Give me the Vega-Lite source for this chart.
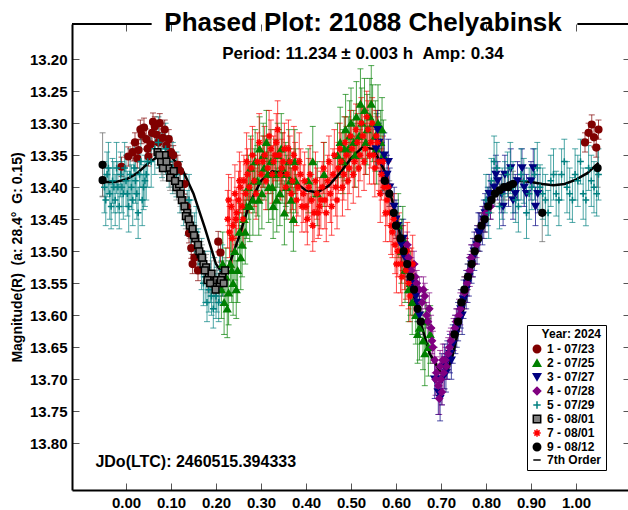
{
"$schema": "https://vega.github.io/schema/vega-lite/v6.json",
"width": 558, "height": 466,
"autosize": {"type": "none"},
"padding": {"left": 72, "top": 24, "right": 0, "bottom": 20},
"config": {"view": {"stroke": null}, "font": "Liberation Sans", "axis": {"grid": false}},
"title": {"text": "Phased Plot: 21088 Chelyabinsk", "subtitle": "Period: 11.234 ± 0.003 h \u00a0Amp: 0.34", "fontSize": 26, "subtitleFontSize": 17, "fontWeight": "bold", "subtitleFontWeight": "bold", "color": "black", "subtitleColor": "black", "anchor": "middle", "frame": "group", "offset": -39, "subtitlePadding": 10, "dx": 12},
"datasets": {
"obs": [
{"s":"1","p":-0.01,"m":13.368,"e":0.015},{"s":"1","p":0.005,"m":13.352,"e":0.015},{"s":"1","p":0.015,"m":13.345,"e":0.014},{"s":"1","p":0.02,"m":13.33,"e":0.015},{"s":"1","p":0.028,"m":13.342,"e":0.016},{"s":"1","p":0.035,"m":13.318,"e":0.014},{"s":"1","p":0.04,"m":13.307,"e":0.015},{"s":"1","p":0.045,"m":13.325,"e":0.016},{"s":"1","p":0.05,"m":13.352,"e":0.015},{"s":"1","p":0.055,"m":13.333,"e":0.015},{"s":"1","p":0.06,"m":13.298,"e":0.014},{"s":"1","p":0.068,"m":13.318,"e":0.015},{"s":"1","p":0.075,"m":13.3,"e":0.015},{"s":"1","p":0.082,"m":13.323,"e":0.014},{"s":"1","p":0.09,"m":13.335,"e":0.015},{"s":"1","p":0.1,"m":13.345,"e":0.016},{"s":"1","p":0.115,"m":13.365,"e":0.015},{"s":"1","p":0.13,"m":13.395,"e":0.016},{"s":"1","p":0.14,"m":13.472,"e":0.015},{"s":"1","p":0.145,"m":13.495,"e":0.016},{"s":"1","p":0.152,"m":13.51,"e":0.015},{"s":"1","p":0.16,"m":13.53,"e":0.016},{"s":"1","p":0.205,"m":13.485,"e":0.016},{"s":"1","p":0.21,"m":13.502,"e":0.015},{"s":"1","p":1.02,"m":13.33,"e":0.015},{"s":"1","p":1.028,"m":13.315,"e":0.015},{"s":"1","p":1.035,"m":13.302,"e":0.015},{"s":"1","p":1.04,"m":13.322,"e":0.015},{"s":"1","p":1.045,"m":13.338,"e":0.015},{"s":"1","p":1.05,"m":13.31,"e":0.015},
{"s":"1","p":0.025,"m":13.355,"e":0.015},{"s":"1","p":0.032,"m":13.31,"e":0.015},{"s":"1","p":0.048,"m":13.34,"e":0.015},{"s":"1","p":0.058,"m":13.315,"e":0.015},{"s":"1","p":0.064,"m":13.305,"e":0.015},{"s":"1","p":0.072,"m":13.33,"e":0.015},{"s":"1","p":0.086,"m":13.31,"e":0.015},{"s":"1","p":0.095,"m":13.325,"e":0.015},{"s":"1","p":0.105,"m":13.35,"e":0.015},{"s":"1","p":0.12,"m":13.375,"e":0.015},{"s":"1","p":0.135,"m":13.43,"e":0.015},{"s":"1","p":0.148,"m":13.52,"e":0.015},
{"s":"2","p":0.212,"m":13.56,"e":0.045},{"s":"2","p":0.218,"m":13.58,"e":0.05},{"s":"2","p":0.222,"m":13.54,"e":0.045},{"s":"2","p":0.228,"m":13.565,"e":0.05},{"s":"2","p":0.232,"m":13.52,"e":0.045},{"s":"2","p":0.238,"m":13.55,"e":0.05},{"s":"2","p":0.242,"m":13.5,"e":0.045},{"s":"2","p":0.248,"m":13.53,"e":0.05},{"s":"2","p":0.252,"m":13.47,"e":0.045},{"s":"2","p":0.258,"m":13.49,"e":0.05},{"s":"2","p":0.262,"m":13.45,"e":0.045},{"s":"2","p":0.268,"m":13.43,"e":0.05},
{"s":"2","p":0.272,"m":13.4,"e":0.05},{"s":"2","p":0.277,"m":13.37,"e":0.05},{"s":"2","p":0.282,"m":13.42,"e":0.055},{"s":"2","p":0.287,"m":13.36,"e":0.05},{"s":"2","p":0.292,"m":13.39,"e":0.055},{"s":"2","p":0.297,"m":13.34,"e":0.05},{"s":"2","p":0.302,"m":13.41,"e":0.055},{"s":"2","p":0.307,"m":13.37,"e":0.05},{"s":"2","p":0.312,"m":13.33,"e":0.05},{"s":"2","p":0.317,"m":13.4,"e":0.055},{"s":"2","p":0.322,"m":13.36,"e":0.05},{"s":"2","p":0.327,"m":13.43,"e":0.05},{"s":"2","p":0.332,"m":13.38,"e":0.055},{"s":"2","p":0.337,"m":13.35,"e":0.05},{"s":"2","p":0.342,"m":13.41,"e":0.05},{"s":"2","p":0.347,"m":13.37,"e":0.055},{"s":"2","p":0.352,"m":13.44,"e":0.05},{"s":"2","p":0.357,"m":13.4,"e":0.05},{"s":"2","p":0.362,"m":13.36,"e":0.05},{"s":"2","p":0.367,"m":13.42,"e":0.05},{"s":"2","p":0.372,"m":13.45,"e":0.05},{"s":"2","p":0.377,"m":13.39,"e":0.05},
{"s":"2","p":0.405,"m":13.39,"e":0.05},{"s":"2","p":0.415,"m":13.36,"e":0.055},{"s":"2","p":0.425,"m":13.41,"e":0.05},{"s":"2","p":0.44,"m":13.38,"e":0.05},
{"s":"2","p":0.47,"m":13.35,"e":0.05},{"s":"2","p":0.476,"m":13.33,"e":0.055},{"s":"2","p":0.482,"m":13.36,"e":0.05},{"s":"2","p":0.488,"m":13.31,"e":0.055},{"s":"2","p":0.494,"m":13.34,"e":0.05},{"s":"2","p":0.5,"m":13.3,"e":0.055},{"s":"2","p":0.506,"m":13.33,"e":0.05},{"s":"2","p":0.512,"m":13.29,"e":0.055},{"s":"2","p":0.518,"m":13.32,"e":0.05},{"s":"2","p":0.524,"m":13.3,"e":0.055},{"s":"2","p":0.53,"m":13.28,"e":0.05},{"s":"2","p":0.536,"m":13.31,"e":0.055},{"s":"2","p":0.542,"m":13.29,"e":0.06},{"s":"2","p":0.548,"m":13.3,"e":0.06},{"s":"2","p":0.554,"m":13.32,"e":0.055},{"s":"2","p":0.56,"m":13.3,"e":0.06},{"s":"2","p":0.566,"m":13.33,"e":0.05},{"s":"2","p":0.572,"m":13.35,"e":0.055},
{"s":"2","p":0.605,"m":13.46,"e":0.05},{"s":"2","p":0.612,"m":13.5,"e":0.05},{"s":"2","p":0.62,"m":13.53,"e":0.05},{"s":"2","p":0.628,"m":13.56,"e":0.05},{"s":"2","p":0.636,"m":13.58,"e":0.05},{"s":"2","p":0.644,"m":13.6,"e":0.045},{"s":"2","p":0.652,"m":13.62,"e":0.05},{"s":"2","p":0.66,"m":13.64,"e":0.045},{"s":"2","p":0.666,"m":13.61,"e":0.05},{"s":"2","p":0.672,"m":13.65,"e":0.045},
{"s":"2","p":0.215,"m":13.52,"e":0.05},{"s":"2","p":0.225,"m":13.59,"e":0.045},{"s":"2","p":0.235,"m":13.53,"e":0.05},{"s":"2","p":0.245,"m":13.56,"e":0.045},{"s":"2","p":0.255,"m":13.51,"e":0.05},{"s":"2","p":0.265,"m":13.47,"e":0.05},{"s":"2","p":0.275,"m":13.43,"e":0.055},{"s":"2","p":0.285,"m":13.39,"e":0.05},{"s":"2","p":0.295,"m":13.42,"e":0.055},{"s":"2","p":0.305,"m":13.35,"e":0.05},{"s":"2","p":0.315,"m":13.38,"e":0.055},{"s":"2","p":0.325,"m":13.4,"e":0.05},{"s":"2","p":0.335,"m":13.42,"e":0.05},{"s":"2","p":0.345,"m":13.34,"e":0.055},{"s":"2","p":0.355,"m":13.38,"e":0.05},{"s":"2","p":0.365,"m":13.39,"e":0.05},{"s":"2","p":0.375,"m":13.36,"e":0.05},{"s":"2","p":0.485,"m":13.34,"e":0.05},{"s":"2","p":0.497,"m":13.32,"e":0.055},{"s":"2","p":0.509,"m":13.35,"e":0.05},{"s":"2","p":0.521,"m":13.27,"e":0.055},{"s":"2","p":0.533,"m":13.33,"e":0.05},{"s":"2","p":0.545,"m":13.27,"e":0.06},{"s":"2","p":0.557,"m":13.34,"e":0.055},{"s":"2","p":0.569,"m":13.31,"e":0.05},{"s":"2","p":0.615,"m":13.48,"e":0.05},{"s":"2","p":0.632,"m":13.55,"e":0.05},{"s":"2","p":0.648,"m":13.63,"e":0.045},{"s":"2","p":0.664,"m":13.66,"e":0.05},{"s":"2","p":0.676,"m":13.63,"e":0.045},
{"s":"3","p":0.556,"m":13.34,"e":0.03},{"s":"3","p":0.562,"m":13.33,"e":0.03},{"s":"3","p":0.568,"m":13.36,"e":0.03},{"s":"3","p":0.574,"m":13.35,"e":0.035},{"s":"3","p":0.58,"m":13.38,"e":0.03},{"s":"3","p":0.586,"m":13.4,"e":0.03},{"s":"3","p":0.596,"m":13.43,"e":0.03},{"s":"3","p":0.604,"m":13.46,"e":0.03},{"s":"3","p":0.612,"m":13.49,"e":0.03},{"s":"3","p":0.62,"m":13.51,"e":0.03},{"s":"3","p":0.628,"m":13.53,"e":0.035},{"s":"3","p":0.636,"m":13.55,"e":0.03},{"s":"3","p":0.644,"m":13.57,"e":0.03},{"s":"3","p":0.652,"m":13.6,"e":0.03},
{"s":"3","p":0.686,"m":13.7,"e":0.03},{"s":"3","p":0.694,"m":13.72,"e":0.035},{"s":"3","p":0.702,"m":13.7,"e":0.04},{"s":"3","p":0.708,"m":13.68,"e":0.035},{"s":"3","p":0.714,"m":13.67,"e":0.03},{"s":"3","p":0.72,"m":13.66,"e":0.03},{"s":"3","p":0.726,"m":13.645,"e":0.03},{"s":"3","p":0.732,"m":13.63,"e":0.03},{"s":"3","p":0.738,"m":13.61,"e":0.03},{"s":"3","p":0.744,"m":13.59,"e":0.03},{"s":"3","p":0.75,"m":13.575,"e":0.03},{"s":"3","p":0.756,"m":13.56,"e":0.03},{"s":"3","p":0.762,"m":13.54,"e":0.03},{"s":"3","p":0.768,"m":13.52,"e":0.03},{"s":"3","p":0.774,"m":13.5,"e":0.03},{"s":"3","p":0.78,"m":13.49,"e":0.03},{"s":"3","p":0.786,"m":13.47,"e":0.03},{"s":"3","p":0.792,"m":13.46,"e":0.03},{"s":"3","p":0.798,"m":13.44,"e":0.03},{"s":"3","p":0.804,"m":13.43,"e":0.03},{"s":"3","p":0.81,"m":13.42,"e":0.03},{"s":"3","p":0.818,"m":13.4,"e":0.03},
{"s":"3","p":0.826,"m":13.39,"e":0.03},{"s":"3","p":0.834,"m":13.41,"e":0.03},{"s":"3","p":0.842,"m":13.38,"e":0.03},{"s":"3","p":0.85,"m":13.4,"e":0.03},{"s":"3","p":0.86,"m":13.42,"e":0.03},{"s":"3","p":0.87,"m":13.39,"e":0.03},{"s":"3","p":0.88,"m":13.37,"e":0.03},{"s":"3","p":0.89,"m":13.41,"e":0.03},{"s":"3","p":0.9,"m":13.39,"e":0.03},{"s":"3","p":0.91,"m":13.43,"e":0.03},
{"s":"3","p":0.559,"m":13.31,"e":0.03},{"s":"3","p":0.571,"m":13.38,"e":0.03},{"s":"3","p":0.583,"m":13.36,"e":0.035},{"s":"3","p":0.6,"m":13.45,"e":0.03},{"s":"3","p":0.616,"m":13.48,"e":0.03},{"s":"3","p":0.632,"m":13.55,"e":0.03},{"s":"3","p":0.648,"m":13.58,"e":0.03},{"s":"3","p":0.698,"m":13.73,"e":0.035},{"s":"3","p":0.711,"m":13.69,"e":0.03},{"s":"3","p":0.723,"m":13.67,"e":0.03},{"s":"3","p":0.735,"m":13.62,"e":0.03},{"s":"3","p":0.747,"m":13.6,"e":0.03},{"s":"3","p":0.759,"m":13.55,"e":0.03},{"s":"3","p":0.771,"m":13.51,"e":0.03},{"s":"3","p":0.783,"m":13.47,"e":0.03},{"s":"3","p":0.795,"m":13.45,"e":0.03},{"s":"3","p":0.807,"m":13.41,"e":0.03},{"s":"3","p":0.822,"m":13.38,"e":0.03},{"s":"3","p":0.838,"m":13.43,"e":0.03},{"s":"3","p":0.855,"m":13.37,"e":0.03},{"s":"3","p":0.865,"m":13.41,"e":0.03},{"s":"3","p":0.885,"m":13.4,"e":0.03},{"s":"3","p":0.905,"m":13.37,"e":0.03},{"s":"3","p":0.915,"m":13.41,"e":0.03},
{"s":"4","p":0.622,"m":13.5,"e":0.02},{"s":"4","p":0.628,"m":13.51,"e":0.02},{"s":"4","p":0.634,"m":13.53,"e":0.02},{"s":"4","p":0.64,"m":13.52,"e":0.02},{"s":"4","p":0.646,"m":13.55,"e":0.02},{"s":"4","p":0.652,"m":13.56,"e":0.02},{"s":"4","p":0.658,"m":13.58,"e":0.02},{"s":"4","p":0.664,"m":13.57,"e":0.02},{"s":"4","p":0.668,"m":13.6,"e":0.02},{"s":"4","p":0.674,"m":13.59,"e":0.025},{"s":"4","p":0.678,"m":13.62,"e":0.02},{"s":"4","p":0.682,"m":13.65,"e":0.025},{"s":"4","p":0.686,"m":13.67,"e":0.02},{"s":"4","p":0.69,"m":13.69,"e":0.025},{"s":"4","p":0.694,"m":13.71,"e":0.02},{"s":"4","p":0.698,"m":13.68,"e":0.025},{"s":"4","p":0.702,"m":13.72,"e":0.02},{"s":"4","p":0.706,"m":13.69,"e":0.025},{"s":"4","p":0.71,"m":13.67,"e":0.02},{"s":"4","p":0.716,"m":13.66,"e":0.025},{"s":"4","p":0.722,"m":13.64,"e":0.02},{"s":"4","p":0.728,"m":13.63,"e":0.025},{"s":"4","p":0.734,"m":13.61,"e":0.02},{"s":"4","p":0.74,"m":13.6,"e":0.025},{"s":"4","p":0.746,"m":13.58,"e":0.02},{"s":"4","p":0.752,"m":13.565,"e":0.025},{"s":"4","p":0.758,"m":13.55,"e":0.02},{"s":"4","p":0.764,"m":13.53,"e":0.025},{"s":"4","p":0.77,"m":13.52,"e":0.02},{"s":"4","p":0.776,"m":13.5,"e":0.02},{"s":"4","p":0.782,"m":13.48,"e":0.02},{"s":"4","p":0.79,"m":13.46,"e":0.02},{"s":"4","p":0.8,"m":13.44,"e":0.02},{"s":"4","p":0.81,"m":13.43,"e":0.02},
{"s":"4","p":0.625,"m":13.49,"e":0.02},{"s":"4","p":0.643,"m":13.54,"e":0.02},{"s":"4","p":0.661,"m":13.56,"e":0.02},{"s":"4","p":0.671,"m":13.61,"e":0.025},{"s":"4","p":0.68,"m":13.64,"e":0.02},{"s":"4","p":0.688,"m":13.7,"e":0.025},{"s":"4","p":0.696,"m":13.73,"e":0.025},{"s":"4","p":0.7,"m":13.7,"e":0.02},{"s":"4","p":0.704,"m":13.67,"e":0.025},{"s":"4","p":0.712,"m":13.68,"e":0.02},{"s":"4","p":0.719,"m":13.65,"e":0.025},{"s":"4","p":0.731,"m":13.62,"e":0.02},{"s":"4","p":0.743,"m":13.59,"e":0.025},{"s":"4","p":0.755,"m":13.56,"e":0.02},{"s":"4","p":0.767,"m":13.51,"e":0.02},{"s":"4","p":0.779,"m":13.49,"e":0.02},{"s":"4","p":0.795,"m":13.45,"e":0.02},
{"s":"5","p":-0.048,"m":13.4,"e":0.04},{"s":"5","p":-0.042,"m":13.38,"e":0.035},{"s":"5","p":-0.036,"m":13.41,"e":0.04},{"s":"5","p":-0.03,"m":13.39,"e":0.035},{"s":"5","p":-0.024,"m":13.42,"e":0.04},{"s":"5","p":-0.018,"m":13.4,"e":0.04},{"s":"5","p":-0.012,"m":13.38,"e":0.035},{"s":"5","p":-0.006,"m":13.41,"e":0.04},{"s":"5","p":0,"m":13.39,"e":0.04},{"s":"5","p":0.006,"m":13.43,"e":0.04},{"s":"5","p":0.012,"m":13.4,"e":0.035},{"s":"5","p":0.018,"m":13.37,"e":0.04},{"s":"5","p":0.024,"m":13.41,"e":0.04},{"s":"5","p":0.03,"m":13.38,"e":0.04},{"s":"5","p":0.036,"m":13.42,"e":0.04},{"s":"5","p":0.042,"m":13.39,"e":0.04},{"s":"5","p":0.048,"m":13.36,"e":0.04},
{"s":"5","p":0.056,"m":13.36,"e":0.04},{"s":"5","p":0.064,"m":13.34,"e":0.04},{"s":"5","p":0.072,"m":13.33,"e":0.04},{"s":"5","p":0.08,"m":13.35,"e":0.035},{"s":"5","p":0.088,"m":13.34,"e":0.04},{"s":"5","p":0.096,"m":13.36,"e":0.04},{"s":"5","p":0.104,"m":13.37,"e":0.04},{"s":"5","p":0.112,"m":13.38,"e":0.035},{"s":"5","p":0.12,"m":13.4,"e":0.04},{"s":"5","p":0.128,"m":13.42,"e":0.04},{"s":"5","p":0.136,"m":13.44,"e":0.035},{"s":"5","p":0.144,"m":13.46,"e":0.04},{"s":"5","p":0.152,"m":13.48,"e":0.04},{"s":"5","p":0.16,"m":13.5,"e":0.035},{"s":"5","p":0.168,"m":13.52,"e":0.04},{"s":"5","p":0.176,"m":13.54,"e":0.04},{"s":"5","p":0.184,"m":13.56,"e":0.035},{"s":"5","p":0.19,"m":13.57,"e":0.03},{"s":"5","p":0.196,"m":13.55,"e":0.04},{"s":"5","p":0.202,"m":13.56,"e":0.035},{"s":"5","p":0.208,"m":13.54,"e":0.04},{"s":"5","p":0.214,"m":13.53,"e":0.04},
{"s":"5","p":-0.045,"m":13.42,"e":0.04},{"s":"5","p":-0.039,"m":13.37,"e":0.04},{"s":"5","p":-0.033,"m":13.43,"e":0.035},{"s":"5","p":-0.027,"m":13.4,"e":0.04},{"s":"5","p":-0.021,"m":13.37,"e":0.04},{"s":"5","p":-0.015,"m":13.43,"e":0.035},{"s":"5","p":-0.009,"m":13.4,"e":0.04},{"s":"5","p":-0.003,"m":13.37,"e":0.04},{"s":"5","p":0.003,"m":13.41,"e":0.035},{"s":"5","p":0.009,"m":13.38,"e":0.04},{"s":"5","p":0.015,"m":13.42,"e":0.04},{"s":"5","p":0.021,"m":13.39,"e":0.035},{"s":"5","p":0.027,"m":13.44,"e":0.04},{"s":"5","p":0.033,"m":13.36,"e":0.04},{"s":"5","p":0.039,"m":13.4,"e":0.035},{"s":"5","p":0.045,"m":13.38,"e":0.04},{"s":"5","p":0.14,"m":13.42,"e":0.04},{"s":"5","p":0.156,"m":13.47,"e":0.04},{"s":"5","p":0.172,"m":13.55,"e":0.035},{"s":"5","p":0.18,"m":13.58,"e":0.03},{"s":"5","p":0.188,"m":13.54,"e":0.04},{"s":"5","p":0.194,"m":13.59,"e":0.03},{"s":"5","p":0.2,"m":13.57,"e":0.035},{"s":"5","p":0.206,"m":13.58,"e":0.03},
{"s":"5","p":0.8,"m":13.42,"e":0.04},{"s":"5","p":0.812,"m":13.39,"e":0.035},{"s":"5","p":0.824,"m":13.37,"e":0.04},{"s":"5","p":0.836,"m":13.41,"e":0.04},{"s":"5","p":0.848,"m":13.38,"e":0.035},{"s":"5","p":0.86,"m":13.4,"e":0.04},{"s":"5","p":0.872,"m":13.43,"e":0.04},{"s":"5","p":0.884,"m":13.39,"e":0.035},{"s":"5","p":0.896,"m":13.41,"e":0.04},{"s":"5","p":0.908,"m":13.38,"e":0.04},{"s":"5","p":0.92,"m":13.4,"e":0.035},{"s":"5","p":0.932,"m":13.42,"e":0.04},{"s":"5","p":0.944,"m":13.39,"e":0.04},{"s":"5","p":0.956,"m":13.41,"e":0.035},{"s":"5","p":0.968,"m":13.38,"e":0.04},{"s":"5","p":0.98,"m":13.4,"e":0.04},{"s":"5","p":0.992,"m":13.42,"e":0.035},{"s":"5","p":1.004,"m":13.39,"e":0.04},{"s":"5","p":1.016,"m":13.41,"e":0.04},{"s":"5","p":1.028,"m":13.37,"e":0.035},{"s":"5","p":1.04,"m":13.4,"e":0.04},{"s":"5","p":1.05,"m":13.38,"e":0.04},
{"s":"5","p":0.806,"m":13.44,"e":0.04},{"s":"5","p":0.818,"m":13.36,"e":0.04},{"s":"5","p":0.83,"m":13.43,"e":0.035},{"s":"5","p":0.842,"m":13.4,"e":0.04},{"s":"5","p":0.854,"m":13.37,"e":0.04},{"s":"5","p":0.866,"m":13.42,"e":0.035},{"s":"5","p":0.878,"m":13.38,"e":0.04},{"s":"5","p":0.89,"m":13.44,"e":0.04},{"s":"5","p":0.902,"m":13.4,"e":0.035},{"s":"5","p":0.914,"m":13.37,"e":0.04},{"s":"5","p":0.926,"m":13.41,"e":0.04},{"s":"5","p":0.938,"m":13.44,"e":0.035},{"s":"5","p":0.95,"m":13.38,"e":0.04},{"s":"5","p":0.962,"m":13.42,"e":0.04},{"s":"5","p":0.974,"m":13.36,"e":0.035},{"s":"5","p":0.986,"m":13.41,"e":0.04},{"s":"5","p":0.998,"m":13.38,"e":0.04},{"s":"5","p":1.01,"m":13.36,"e":0.035},{"s":"5","p":1.022,"m":13.42,"e":0.04},{"s":"5","p":1.034,"m":13.39,"e":0.04},{"s":"5","p":1.046,"m":13.41,"e":0.035},
{"s":"6","p":0.07,"m":13.345,"e":0.02},{"s":"6","p":0.078,"m":13.36,"e":0.02},{"s":"6","p":0.086,"m":13.35,"e":0.02},{"s":"6","p":0.094,"m":13.37,"e":0.02},{"s":"6","p":0.1,"m":13.38,"e":0.02},{"s":"6","p":0.106,"m":13.375,"e":0.02},{"s":"6","p":0.112,"m":13.4,"e":0.02},{"s":"6","p":0.118,"m":13.395,"e":0.02},{"s":"6","p":0.124,"m":13.42,"e":0.02},{"s":"6","p":0.13,"m":13.43,"e":0.02},{"s":"6","p":0.136,"m":13.44,"e":0.02},{"s":"6","p":0.142,"m":13.46,"e":0.02},{"s":"6","p":0.148,"m":13.465,"e":0.02},{"s":"6","p":0.154,"m":13.48,"e":0.02},{"s":"6","p":0.16,"m":13.49,"e":0.02},{"s":"6","p":0.166,"m":13.505,"e":0.02},{"s":"6","p":0.172,"m":13.52,"e":0.02},{"s":"6","p":0.178,"m":13.525,"e":0.02},{"s":"6","p":0.184,"m":13.54,"e":0.02},{"s":"6","p":0.19,"m":13.535,"e":0.02},{"s":"6","p":0.196,"m":13.55,"e":0.02},{"s":"6","p":0.202,"m":13.545,"e":0.02},{"s":"6","p":0.208,"m":13.55,"e":0.02},{"s":"6","p":0.214,"m":13.54,"e":0.02},{"s":"6","p":0.22,"m":13.53,"e":0.02},
{"s":"6","p":0.074,"m":13.35,"e":0.02},{"s":"6","p":0.082,"m":13.37,"e":0.02},{"s":"6","p":0.09,"m":13.36,"e":0.02},{"s":"6","p":0.098,"m":13.385,"e":0.02},{"s":"6","p":0.109,"m":13.39,"e":0.02},{"s":"6","p":0.121,"m":13.41,"e":0.02},{"s":"6","p":0.133,"m":13.445,"e":0.02},{"s":"6","p":0.139,"m":13.45,"e":0.02},{"s":"6","p":0.151,"m":13.475,"e":0.02},{"s":"6","p":0.163,"m":13.5,"e":0.02},{"s":"6","p":0.169,"m":13.51,"e":0.02},{"s":"6","p":0.175,"m":13.53,"e":0.02},{"s":"6","p":0.181,"m":13.545,"e":0.02},{"s":"6","p":0.187,"m":13.55,"e":0.02},{"s":"6","p":0.199,"m":13.56,"e":0.02},{"s":"6","p":0.211,"m":13.545,"e":0.02},{"s":"6","p":0.217,"m":13.55,"e":0.02},
{"s":"7","p":0.226,"m":13.45,"e":0.045},{"s":"7","p":0.23,"m":13.47,"e":0.04},{"s":"7","p":0.234,"m":13.43,"e":0.045},{"s":"7","p":0.238,"m":13.46,"e":0.04},{"s":"7","p":0.242,"m":13.41,"e":0.045},{"s":"7","p":0.246,"m":13.44,"e":0.04},{"s":"7","p":0.25,"m":13.42,"e":0.045},{"s":"7","p":0.254,"m":13.4,"e":0.04},{"s":"7","p":0.258,"m":13.43,"e":0.045},{"s":"7","p":0.262,"m":13.39,"e":0.04},{"s":"7","p":0.266,"m":13.41,"e":0.045},{"s":"7","p":0.27,"m":13.38,"e":0.04},{"s":"7","p":0.278,"m":13.37,"e":0.045},{"s":"7","p":0.285,"m":13.39,"e":0.04},{"s":"7","p":0.292,"m":13.36,"e":0.045},{"s":"7","p":0.3,"m":13.38,"e":0.04},{"s":"7","p":0.308,"m":13.35,"e":0.045},{"s":"7","p":0.315,"m":13.37,"e":0.04},{"s":"7","p":0.322,"m":13.34,"e":0.045},{"s":"7","p":0.328,"m":13.36,"e":0.04},{"s":"7","p":0.334,"m":13.33,"e":0.045},{"s":"7","p":0.34,"m":13.35,"e":0.04},{"s":"7","p":0.346,"m":13.37,"e":0.045},{"s":"7","p":0.352,"m":13.34,"e":0.04},{"s":"7","p":0.358,"m":13.38,"e":0.045},{"s":"7","p":0.364,"m":13.36,"e":0.04},{"s":"7","p":0.37,"m":13.39,"e":0.045},{"s":"7","p":0.376,"m":13.37,"e":0.04},{"s":"7","p":0.382,"m":13.4,"e":0.045},{"s":"7","p":0.388,"m":13.38,"e":0.04},{"s":"7","p":0.394,"m":13.41,"e":0.045},{"s":"7","p":0.4,"m":13.43,"e":0.04},{"s":"7","p":0.406,"m":13.4,"e":0.045},{"s":"7","p":0.412,"m":13.42,"e":0.04},{"s":"7","p":0.418,"m":13.44,"e":0.045},{"s":"7","p":0.424,"m":13.41,"e":0.04},{"s":"7","p":0.43,"m":13.43,"e":0.045},{"s":"7","p":0.436,"m":13.4,"e":0.04},{"s":"7","p":0.442,"m":13.42,"e":0.045},{"s":"7","p":0.448,"m":13.39,"e":0.04},{"s":"7","p":0.454,"m":13.41,"e":0.045},{"s":"7","p":0.46,"m":13.38,"e":0.04},{"s":"7","p":0.466,"m":13.4,"e":0.045},{"s":"7","p":0.472,"m":13.37,"e":0.04},{"s":"7","p":0.478,"m":13.36,"e":0.045},{"s":"7","p":0.484,"m":13.38,"e":0.04},{"s":"7","p":0.49,"m":13.35,"e":0.045},{"s":"7","p":0.496,"m":13.37,"e":0.04},{"s":"7","p":0.502,"m":13.34,"e":0.045},{"s":"7","p":0.508,"m":13.36,"e":0.04},{"s":"7","p":0.514,"m":13.33,"e":0.045},{"s":"7","p":0.52,"m":13.35,"e":0.04},{"s":"7","p":0.526,"m":13.32,"e":0.045},{"s":"7","p":0.532,"m":13.34,"e":0.04},{"s":"7","p":0.538,"m":13.31,"e":0.045},{"s":"7","p":0.544,"m":13.33,"e":0.04},{"s":"7","p":0.55,"m":13.35,"e":0.045},{"s":"7","p":0.556,"m":13.32,"e":0.04},{"s":"7","p":0.562,"m":13.36,"e":0.045},{"s":"7","p":0.568,"m":13.38,"e":0.04},{"s":"7","p":0.574,"m":13.4,"e":0.045},{"s":"7","p":0.58,"m":13.42,"e":0.04},{"s":"7","p":0.586,"m":13.44,"e":0.045},{"s":"7","p":0.592,"m":13.47,"e":0.04},{"s":"7","p":0.598,"m":13.49,"e":0.045},{"s":"7","p":0.604,"m":13.5,"e":0.04},{"s":"7","p":0.61,"m":13.52,"e":0.045},{"s":"7","p":0.616,"m":13.5,"e":0.04},{"s":"7","p":0.622,"m":13.53,"e":0.045},{"s":"7","p":0.628,"m":13.55,"e":0.04},{"s":"7","p":0.634,"m":13.54,"e":0.045},{"s":"7","p":0.64,"m":13.56,"e":0.04},
{"s":"7","p":0.228,"m":13.42,"e":0.04},{"s":"7","p":0.236,"m":13.48,"e":0.045},{"s":"7","p":0.244,"m":13.45,"e":0.04},{"s":"7","p":0.252,"m":13.39,"e":0.045},{"s":"7","p":0.26,"m":13.45,"e":0.04},{"s":"7","p":0.268,"m":13.36,"e":0.045},{"s":"7","p":0.274,"m":13.4,"e":0.04},{"s":"7","p":0.281,"m":13.35,"e":0.045},{"s":"7","p":0.289,"m":13.41,"e":0.04},{"s":"7","p":0.296,"m":13.33,"e":0.045},{"s":"7","p":0.304,"m":13.36,"e":0.04},{"s":"7","p":0.311,"m":13.39,"e":0.045},{"s":"7","p":0.318,"m":13.32,"e":0.04},{"s":"7","p":0.325,"m":13.38,"e":0.045},{"s":"7","p":0.331,"m":13.35,"e":0.04},{"s":"7","p":0.337,"m":13.31,"e":0.045},{"s":"7","p":0.343,"m":13.38,"e":0.04},{"s":"7","p":0.349,"m":13.36,"e":0.045},{"s":"7","p":0.355,"m":13.4,"e":0.04},{"s":"7","p":0.361,"m":13.34,"e":0.045},{"s":"7","p":0.367,"m":13.41,"e":0.04},{"s":"7","p":0.373,"m":13.35,"e":0.045},{"s":"7","p":0.379,"m":13.42,"e":0.04},{"s":"7","p":0.385,"m":13.36,"e":0.045},{"s":"7","p":0.391,"m":13.43,"e":0.04},{"s":"7","p":0.397,"m":13.39,"e":0.045},{"s":"7","p":0.403,"m":13.45,"e":0.04},{"s":"7","p":0.409,"m":13.38,"e":0.045},{"s":"7","p":0.415,"m":13.46,"e":0.04},{"s":"7","p":0.421,"m":13.39,"e":0.045},{"s":"7","p":0.427,"m":13.44,"e":0.04},{"s":"7","p":0.433,"m":13.42,"e":0.045},{"s":"7","p":0.439,"m":13.37,"e":0.04},{"s":"7","p":0.445,"m":13.44,"e":0.045},{"s":"7","p":0.451,"m":13.36,"e":0.04},{"s":"7","p":0.457,"m":13.43,"e":0.045},{"s":"7","p":0.463,"m":13.35,"e":0.04},{"s":"7","p":0.469,"m":13.42,"e":0.045},{"s":"7","p":0.475,"m":13.34,"e":0.04},{"s":"7","p":0.481,"m":13.4,"e":0.045},{"s":"7","p":0.487,"m":13.33,"e":0.04},{"s":"7","p":0.493,"m":13.39,"e":0.045},{"s":"7","p":0.499,"m":13.32,"e":0.04},{"s":"7","p":0.505,"m":13.38,"e":0.045},{"s":"7","p":0.511,"m":13.31,"e":0.04},{"s":"7","p":0.517,"m":13.37,"e":0.045},{"s":"7","p":0.523,"m":13.3,"e":0.04},{"s":"7","p":0.529,"m":13.36,"e":0.045},{"s":"7","p":0.535,"m":13.29,"e":0.04},{"s":"7","p":0.541,"m":13.35,"e":0.045},{"s":"7","p":0.547,"m":13.3,"e":0.04},{"s":"7","p":0.553,"m":13.37,"e":0.045},{"s":"7","p":0.559,"m":13.33,"e":0.04},{"s":"7","p":0.565,"m":13.41,"e":0.045},{"s":"7","p":0.571,"m":13.36,"e":0.04},{"s":"7","p":0.577,"m":13.44,"e":0.045},{"s":"7","p":0.583,"m":13.4,"e":0.04},{"s":"7","p":0.589,"m":13.46,"e":0.045},{"s":"7","p":0.595,"m":13.45,"e":0.04},{"s":"7","p":0.601,"m":13.52,"e":0.045},{"s":"7","p":0.607,"m":13.48,"e":0.04},{"s":"7","p":0.613,"m":13.54,"e":0.045},{"s":"7","p":0.619,"m":13.52,"e":0.04},{"s":"7","p":0.625,"m":13.5,"e":0.045},{"s":"7","p":0.631,"m":13.57,"e":0.04},{"s":"7","p":0.637,"m":13.52,"e":0.045},
{"s":"9","p":-0.052,"m":13.365,"e":0.05},{"s":"9","p":-0.052,"m":13.389,"e":0.025},{"s":"9","p":0.575,"m":13.39,"e":0.02},{"s":"9","p":0.585,"m":13.41,"e":0.02},{"s":"9","p":0.595,"m":13.44,"e":0.02},{"s":"9","p":0.61,"m":13.48,"e":0.02},{"s":"9","p":0.625,"m":13.52,"e":0.02},{"s":"9","p":0.64,"m":13.56,"e":0.02},{"s":"9","p":0.655,"m":13.61,"e":0.02},{"s":"9","p":0.73,"m":13.63,"e":0.02},{"s":"9","p":0.745,"m":13.58,"e":0.02},{"s":"9","p":0.76,"m":13.54,"e":0.02},{"s":"9","p":0.775,"m":13.5,"e":0.02},{"s":"9","p":0.79,"m":13.46,"e":0.02},{"s":"9","p":0.805,"m":13.43,"e":0.02},{"s":"9","p":0.82,"m":13.41,"e":0.02},{"s":"9","p":0.84,"m":13.4,"e":0.02},{"s":"9","p":0.86,"m":13.395,"e":0.02},{"s":"9","p":0.925,"m":13.44,"e":0.045},{"s":"9","p":1.048,"m":13.37,"e":0.03},
{"s":"9","p":0.6,"m":13.46,"e":0.02},{"s":"9","p":0.617,"m":13.5,"e":0.02},{"s":"9","p":0.632,"m":13.54,"e":0.02},{"s":"9","p":0.648,"m":13.59,"e":0.02},{"s":"9","p":0.738,"m":13.61,"e":0.02},{"s":"9","p":0.752,"m":13.56,"e":0.02},{"s":"9","p":0.768,"m":13.52,"e":0.02},{"s":"9","p":0.783,"m":13.48,"e":0.02},{"s":"9","p":0.797,"m":13.45,"e":0.02},{"s":"9","p":0.812,"m":13.42,"e":0.02},{"s":"9","p":0.83,"m":13.405,"e":0.02},{"s":"9","p":0.85,"m":13.4,"e":0.02}
],
"fit": [
{"p":-0.05,"m":13.392},{"p":-0.025,"m":13.392},{"p":0,"m":13.388},{"p":0.025,"m":13.378},{"p":0.05,"m":13.362},{"p":0.075,"m":13.35},{"p":0.1,"m":13.352},{"p":0.125,"m":13.372},{"p":0.15,"m":13.41},{"p":0.175,"m":13.463},{"p":0.2,"m":13.52},{"p":0.215,"m":13.535},{"p":0.225,"m":13.53},{"p":0.25,"m":13.48},{"p":0.275,"m":13.425},{"p":0.3,"m":13.39},{"p":0.325,"m":13.375},{"p":0.35,"m":13.378},{"p":0.375,"m":13.392},{"p":0.4,"m":13.405},{"p":0.425,"m":13.408},{"p":0.45,"m":13.398},{"p":0.475,"m":13.378},{"p":0.5,"m":13.355},{"p":0.525,"m":13.338},{"p":0.55,"m":13.34},{"p":0.575,"m":13.375},{"p":0.6,"m":13.445},{"p":0.625,"m":13.525},{"p":0.65,"m":13.6},{"p":0.675,"m":13.66},{"p":0.7,"m":13.69},{"p":0.715,"m":13.685},{"p":0.725,"m":13.665},{"p":0.75,"m":13.59},{"p":0.775,"m":13.505},{"p":0.8,"m":13.44},{"p":0.825,"m":13.405},{"p":0.85,"m":13.393},{"p":0.875,"m":13.39},{"p":0.9,"m":13.392},{"p":0.925,"m":13.395},{"p":0.95,"m":13.397},{"p":0.975,"m":13.395},{"p":1,"m":13.388},{"p":1.025,"m":13.378},{"p":1.05,"m":13.362}
]
},
"resolve": {"axis": {"x": "independent", "y": "independent"}},
"layer": [
{
"data": {"name": "obs"},
"mark": {"type": "errorbar", "ticks": true, "size": 6, "thickness": 1, "opacity": 0.7},
"encoding": {
"x": {"field": "p", "type": "quantitative", "scale": {"domain": [-0.12, 1.12], "nice": false, "zero": false},
"axis": {"orient": "bottom", "values": [0,0.1,0.2,0.3,0.4,0.5,0.6,0.7,0.8,0.9,1], "format": ".2f", "title": null, "labelFontSize": 15, "labelFontWeight": "bold", "labelColor": "black", "tickSize": -7, "tickColor": "#555", "domainColor": "black", "domainWidth": 2, "labelPadding": 12, "labelFlush": false}},
"y": {"field": "m", "type": "quantitative", "scale": {"domain": [13.145, 13.873], "reverse": true, "nice": false, "zero": false},
"axis": {"orient": "left", "values": [13.2,13.25,13.3,13.35,13.4,13.45,13.5,13.55,13.6,13.65,13.7,13.75,13.8], "format": ".2f", "title": "Magnitude(R) \u00a0(a: 28.4° \u00a0G: 0.15)", "titleFontSize": 14, "titleFontWeight": "bold", "titleColor": "black", "titlePadding": 5, "labelFontSize": 15, "labelFontWeight": "bold", "labelColor": "black", "tickSize": -7, "tickColor": "#555", "domainColor": "black", "domainWidth": 2, "labelPadding": 12}},
"yError": {"field": "e"},
"color": {"field": "s", "type": "nominal", "legend": null, "scale": {"domain": ["1","2","3","4","5","6","7","9"], "range": ["#800000","#008000","#000080","#800080","#008080","#808080","#ff0000","#606060"]}}
}
},
{
"data": {"name": "fit"},
"mark": {"type": "line", "color": "black", "strokeWidth": 2.5},
"encoding": {
"x": {"field": "p", "type": "quantitative", "scale": {"domain": [-0.12, 1.12], "nice": false, "zero": false},
"axis": {"orient": "top", "values": [0,0.1,0.2,0.3,0.4,0.5,0.6,0.7,0.8,0.9,1], "labels": false, "domain": false, "title": null, "tickSize": -7, "tickColor": "#555"}},
"y": {"field": "m", "type": "quantitative", "scale": {"domain": [13.145, 13.873], "reverse": true, "nice": false, "zero": false},
"axis": {"orient": "right", "values": [13.2,13.25,13.3,13.35,13.4,13.45,13.5,13.55,13.6,13.65,13.7,13.75,13.8], "labels": false, "domain": false, "title": null, "tickSize": -7, "tickColor": "#555"}}
}
},
{
"data": {"name": "obs"},
"mark": {"type": "point", "filled": true, "size": 45, "strokeWidth": 1.5, "opacity": 1},
"encoding": {
"x": {"field": "p", "type": "quantitative", "axis": null},
"y": {"field": "m", "type": "quantitative", "axis": null},
"fill": {"field": "s", "type": "nominal", "scale": {"domain": ["1","2","3","4","5","6","7","9","F"], "range": ["#800000","#008000","#000080","#800080","#008080","#808080","#ff0000","#000000","#000000"]},
"legend": {"title": "Year: 2024", "orient": "none", "legendX": 455, "legendY": 301, "labelExpr": "['1 - 07/23','2 - 07/25','3 - 07/27','4 - 07/28','5 - 07/29','6 - 08/01','7 - 08/01','9 - 08/12','7th Order'][indexof(['1','2','3','4','5','6','7','9','F'], datum.label)]", "strokeColor": "black", "fillColor": "white", "padding": 4, "titleFontSize": 12, "labelFontSize": 12, "titleFontWeight": "bold", "labelFontWeight": "bold", "titleColor": "black", "labelColor": "black", "symbolSize": 55, "symbolStrokeWidth": 1.5, "rowPadding": 0, "labelOffset": 4, "titleAnchor": "end", "titlePadding": 2}},
"stroke": {"field": "s", "type": "nominal", "scale": {"domain": ["1","2","3","4","5","6","7","9","F"], "range": ["#800000","#008000","#000080","#800080","#008080","#000000","#ff0000","#000000","#000000"]},
"legend": {"title": "Year: 2024", "orient": "none", "legendX": 455, "legendY": 301, "labelExpr": "['1 - 07/23','2 - 07/25','3 - 07/27','4 - 07/28','5 - 07/29','6 - 08/01','7 - 08/01','9 - 08/12','7th Order'][indexof(['1','2','3','4','5','6','7','9','F'], datum.label)]", "strokeColor": "black", "fillColor": "white", "padding": 4, "titleFontSize": 12, "labelFontSize": 12, "titleFontWeight": "bold", "labelFontWeight": "bold", "titleColor": "black", "labelColor": "black", "symbolSize": 55, "symbolStrokeWidth": 1.5, "rowPadding": 0, "labelOffset": 4, "titleAnchor": "end", "titlePadding": 2}},
"shape": {"field": "s", "type": "nominal", "scale": {"domain": ["1","2","3","4","5","6","7","9","F"], "range": ["circle","triangle-up","triangle-down","diamond","M-1,0L1,0M0,-1L0,1","square","M-1,0L1,0M0,-1L0,1M-0.7,-0.7L0.7,0.7M-0.7,0.7L0.7,-0.7","circle","stroke"]},
"legend": {"title": "Year: 2024", "orient": "none", "legendX": 455, "legendY": 301, "labelExpr": "['1 - 07/23','2 - 07/25','3 - 07/27','4 - 07/28','5 - 07/29','6 - 08/01','7 - 08/01','9 - 08/12','7th Order'][indexof(['1','2','3','4','5','6','7','9','F'], datum.label)]", "strokeColor": "black", "fillColor": "white", "padding": 4, "titleFontSize": 12, "labelFontSize": 12, "titleFontWeight": "bold", "labelFontWeight": "bold", "titleColor": "black", "labelColor": "black", "symbolSize": 55, "symbolStrokeWidth": 1.5, "rowPadding": 0, "labelOffset": 4, "titleAnchor": "end", "titlePadding": 2}}
}
},
{
"data": {"values": [{}]},
"mark": {"type": "rule", "color": "black", "strokeWidth": 2},
"encoding": {
"x": {"datum": -0.12, "type": "quantitative", "axis": null},
"x2": {"datum": 0.057},
"y": {"datum": 13.145, "type": "quantitative", "axis": null}
}
},
{
"data": {"values": [{}]},
"mark": {"type": "rule", "color": "black", "strokeWidth": 2},
"encoding": {
"x": {"datum": 1.003, "type": "quantitative", "axis": null},
"x2": {"datum": 1.12},
"y": {"datum": 13.145, "type": "quantitative", "axis": null}
}
},
{
"data": {"values": [{}]},
"mark": {"type": "text", "align": "left", "baseline": "alphabetic", "fontSize": 16, "fontWeight": "bold", "color": "black", "text": "JDo(LTC): 2460515.394333"},
"encoding": {
"x": {"datum": -0.068, "type": "quantitative", "axis": null},
"y": {"datum": 13.837, "type": "quantitative", "axis": null}
}
}
]
}
